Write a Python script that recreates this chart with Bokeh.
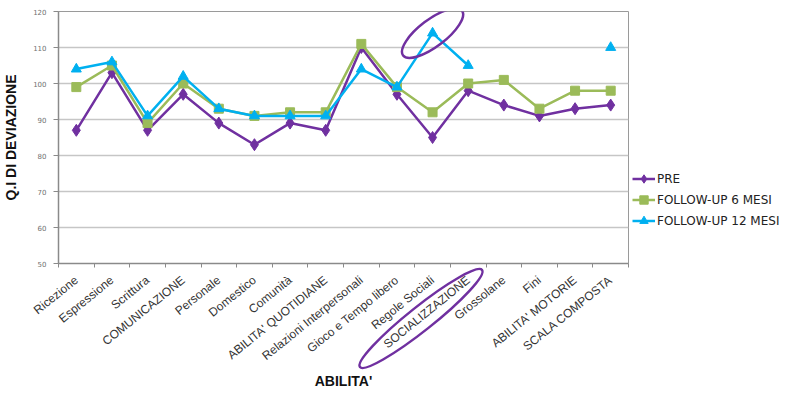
import math
import numpy as np
from bokeh.plotting import figure
from bokeh.models import Range1d, FixedTicker, Legend, LegendItem, Div
from bokeh.layouts import column, row
from bokeh.embed import file_html
from bokeh.resources import INLINE

categories = ["Ricezione", "Espressione", "Scrittura", "COMUNICAZIONE", "Personale",
              "Domestico", "Comunità", "ABILITA' QUOTIDIANE", "Relazioni Interpersonali",
              "Gioco e Tempo libero", "Regole Sociali", "SOCIALIZZAZIONE", "Grossolane",
              "Fini", "ABILITA' MOTORIE", "SCALA COMPOSTA"]
pre = [87, 103, 87, 97, 89, 83, 89, 87, 110, 97, 85, 98, 94, 91, 93, 94]
fu6 = [99, 105, 89, 100, 93, 91, 92, 92, 111, 99, 92, 100, 101, 93, 98, 98]
fu12 = [104, 106, 91, 102, 93, 91, 91, 91, 104, 99, 114, 105, None, None, None, 110]
series_names = ["PRE", "FOLLOW-UP 6 MESI", "FOLLOW-UP 12 MESI"]
y_ticks = [50, 60, 70, 80, 90, 100, 110, 120]

PURPLE = "#7030A0"
GREEN = "#9BBB59"
CYAN = "#00B0F0"

H = 393
PW = 629      # main plot width (frame ends at x=628)
LW = 160      # legend strip width

xs = list(range(len(categories)))
fu12_arr = [np.nan if v is None else v for v in fu12]
series = [pre, fu6, fu12_arr]

p = figure(width=PW, height=H, x_range=Range1d(-0.5, len(categories) - 0.5),
           y_range=Range1d(50, 120), output_backend="svg", toolbar_location=None,
           min_border_left=55, min_border_right=1, min_border_top=11, min_border_bottom=130,
           margin=(0, 0, 0, 0))

p.outline_line_color = "#9a9a9a"
p.outline_line_width = 1
p.xgrid.grid_line_color = None
p.ygrid.grid_line_color = "#c6c6c6"
p.ygrid.grid_line_width = 1.6
p.ygrid.ticker = FixedTicker(ticks=y_ticks)

# y axis
p.yaxis.ticker = FixedTicker(ticks=y_ticks)
p.yaxis.axis_line_color = "#8a8a8a"
p.yaxis.axis_line_width = 1.5
p.yaxis.major_tick_line_color = "#8a8a8a"
p.yaxis.major_tick_out = 5
p.yaxis.major_tick_in = 0
p.yaxis.minor_tick_line_color = None
p.yaxis.major_label_text_font = "DejaVu Sans"
p.yaxis.major_label_text_font_size = "7px"
p.yaxis.major_label_text_color = "#707070"
p.yaxis.major_label_standoff = 7
p.yaxis.axis_label = "Q.I DI DEVIAZIONE"
p.yaxis.axis_label_text_font = "Liberation Sans"
p.yaxis.axis_label_text_font_style = "bold"
p.yaxis.axis_label_text_font_size = "14px"
p.yaxis.axis_label_text_color = "#111111"
p.yaxis.axis_label_standoff = 11

# x axis
p.xaxis.ticker = FixedTicker(ticks=xs, minor_ticks=[i - 0.5 for i in range(len(categories) + 1)])
p.xaxis.major_label_overrides = {i: c for i, c in enumerate(categories)}
p.xaxis.major_label_orientation = 0.68
p.xaxis.major_tick_line_color = None
p.xaxis.major_tick_out = 0
p.xaxis.major_tick_in = 0
p.xaxis.minor_tick_line_color = "#8a8a8a"
p.xaxis.minor_tick_out = 4
p.xaxis.minor_tick_in = 0
p.xaxis.axis_line_color = "#8a8a8a"
p.xaxis.axis_line_width = 1.5
p.xaxis.major_label_text_font = "Liberation Sans"
p.xaxis.major_label_text_font_size = "12px"
p.xaxis.major_label_text_color = "#333333"
p.xaxis.major_label_standoff = 11
p.xaxis.axis_label = "ABILITA'"
p.xaxis.axis_label_text_font = "Liberation Sans"
p.xaxis.axis_label_text_font_style = "bold"
p.xaxis.axis_label_text_font_size = "14px"
p.xaxis.axis_label_text_color = "#111111"
p.xaxis.axis_label_standoff = 2

lw = 2.5
styles = [
    dict(color=PURPLE, marker="diamond", size=12),
    dict(color=GREEN, marker="square", size=9),
    dict(color=CYAN, marker="triangle", size=10),
]
for vals, st in zip(series, styles):
    p.line(xs, vals, line_color=st["color"], line_width=lw)
    p.scatter(xs, vals, marker=st["marker"], size=st["size"],
              fill_color=st["color"], line_color=st["color"])

# highlight ellipse around the FOLLOW-UP 12 MESI peak (Regole Sociali)
ki = categories.index("Regole Sociali")
p.ellipse(x=[xs[ki]], y=[fu12[ki]], width=74, height=27, width_units="screen",
          height_units="screen", angle=0.65, fill_color=None, line_color=PURPLE, line_width=2.5)

# legend strip to the right of the plot (its series are plotted out of view,
# only their legend glyphs show)
lg = figure(width=LW, height=H, x_range=Range1d(-100, -99), y_range=Range1d(0, 1),
            output_backend="svg", toolbar_location=None, min_border=0,
            margin=(0, 0, 0, 0))
lg.axis.visible = False
lg.grid.grid_line_color = None
lg.outline_line_color = None
items = []
for name, vals, st in zip(series_names, series, styles):
    r1 = lg.line(xs, vals, line_color=st["color"], line_width=lw)
    r2 = lg.scatter(xs, vals, marker=st["marker"], size=st["size"] - 1,
                    fill_color=st["color"], line_color=st["color"])
    items.append(LegendItem(label=name, renderers=[r1, r2]))
legend = Legend(items=items, location=(3, 32), orientation="vertical",
                label_text_font="DejaVu Sans", label_text_font_size="12px",
                label_text_color="#222222", glyph_width=23, glyph_height=21,
                label_height=21, label_standoff=2, spacing=0, padding=0, margin=0,
                border_line_color=None, background_fill_alpha=0)
lg.add_layout(legend, "center")

# decorative ellipse around the SOCIALIZZAZIONE tick label (outside the plot frame),
# drawn as an overlay placed over the lower part of the figure
ov_left, ov_top, ov_w, ov_h = 330, 260, 180, 120
cx, cy = 421 - ov_left, 318.5 - ov_top
svg = (f'<svg width="{ov_w}" height="{ov_h}" xmlns="http://www.w3.org/2000/svg">'
       f'<ellipse cx="{cx}" cy="{cy}" rx="78" ry="12" transform="rotate(-38.5 {cx} {cy})" '
       f'fill="none" stroke="{PURPLE}" stroke-width="2.5"/></svg>')
overlay = Div(text=svg, width=ov_w, height=ov_h,
              margin=(-(H - ov_top), 0, 0, ov_left))

layout = column(row(p, lg, spacing=0), overlay, spacing=0)

open("out.html", "w").write(file_html(layout, INLINE))
